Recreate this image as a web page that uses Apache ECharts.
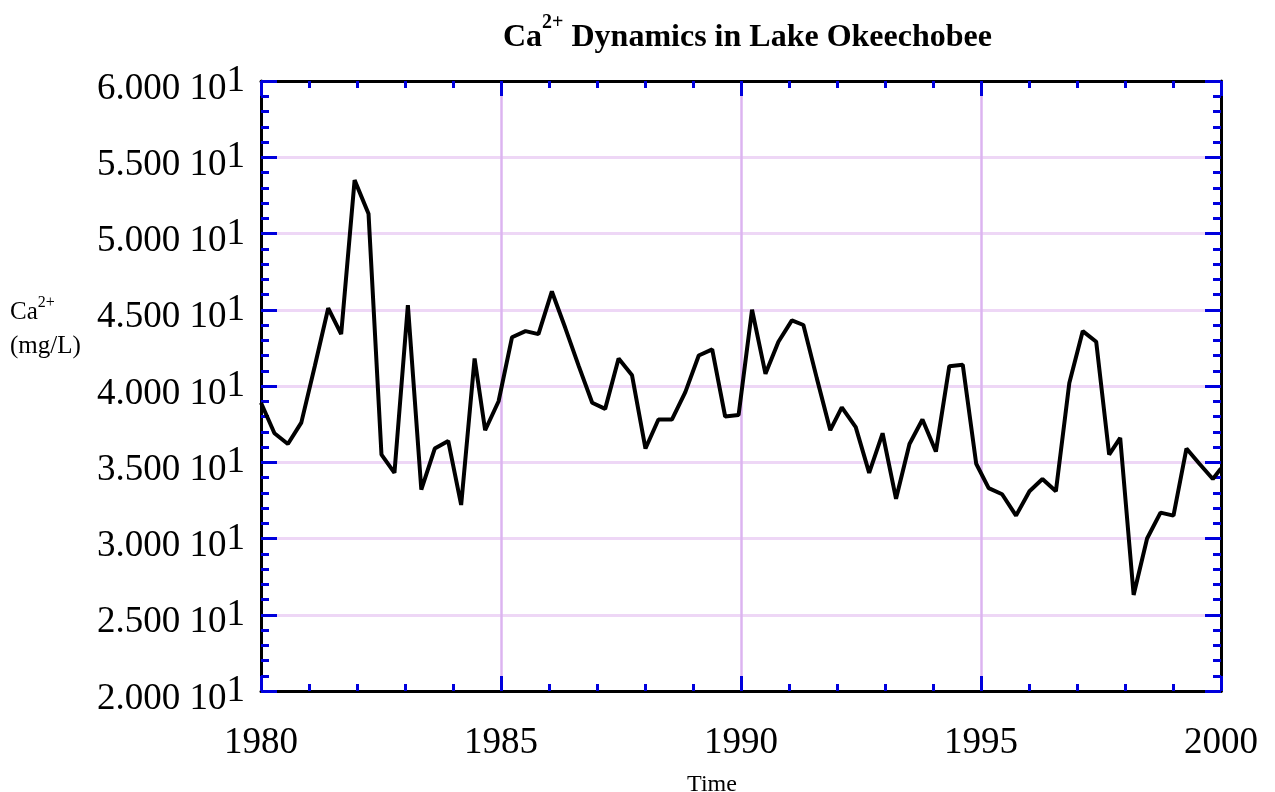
<!DOCTYPE html>
<html>
<head>
<meta charset="utf-8">
<script src="https://cdn.jsdelivr.net/npm/echarts@6/dist/echarts.min.js"></script>
<style>
  html, body { margin: 0; padding: 0; background: #fff; }
  #chart { width: 1275px; height: 792px; }
</style>
</head>
<body>
<div id="chart"></div>
<script>
// sample times (decimal years)
var years = [
  1980.00, 1980.28, 1980.56, 1980.84, 1981.12, 1981.40, 1981.67, 1981.95, 1982.24, 1982.51,
  1982.78, 1983.06, 1983.34, 1983.62, 1983.90, 1984.17, 1984.45, 1984.67, 1984.95, 1985.23,
  1985.51, 1985.78, 1986.06, 1986.34, 1986.62, 1986.90, 1987.17, 1987.45, 1987.73, 1988.01,
  1988.28, 1988.56, 1988.84, 1989.12, 1989.40, 1989.67, 1989.95, 1990.23, 1990.51, 1990.78,
  1991.06, 1991.30, 1991.58, 1991.86, 1992.10, 1992.39, 1992.67, 1992.95, 1993.23, 1993.51,
  1993.78, 1994.06, 1994.34, 1994.62, 1994.90, 1995.16, 1995.44, 1995.73, 1996.01, 1996.28,
  1996.56, 1996.84, 1997.12, 1997.40, 1997.67, 1997.90, 1998.18, 1998.46, 1998.74, 1999.01,
  1999.28, 1999.55, 1999.83, 2000.00
];
// Ca2+ concentration, mg/L
var calcium = [
  38.9, 36.9, 36.2, 37.6, 41.3, 45.1, 43.4, 53.5, 51.3, 35.5,
  34.3, 45.3, 33.2, 35.9, 36.4, 32.2, 41.8, 37.1, 39.0, 43.2,
  43.6, 43.4, 46.2, 43.8, 41.3, 38.9, 38.5, 41.8, 40.7, 35.9,
  37.8, 37.8, 39.6, 42.0, 42.4, 38.0, 38.1, 45.0, 40.8, 42.9,
  44.3, 44.0, 40.5, 37.1, 38.6, 37.3, 34.3, 36.9, 32.6, 36.2,
  37.8, 35.7, 41.3, 41.4, 34.9, 33.3, 32.9, 31.5, 33.1, 33.9,
  33.1, 40.2, 43.6, 42.9, 35.5, 36.6, 26.3, 30.0, 31.7, 31.5,
  35.9, 34.9, 33.9, 34.6
];
var yearTicks = [1980, 1985, 1990, 1995, 2000];

var serif = "'Liberation Serif', 'Times New Roman', serif";
var tickBlue = "#0000dd";

var points = [];
for (var i = 0; i < years.length; i++) {
  points.push([years[i], calcium[i]]);
}

var myChart = echarts.init(document.getElementById("chart"), null, { renderer: "canvas" });

var xBase = {
  type: "value",
  min: yearTicks[0],
  max: yearTicks[yearTicks.length - 1],
  interval: 5,
  axisLine: { show: true, onZero: false, lineStyle: { color: "#000", width: 3 } },
  axisTick: { show: true, inside: true, length: 15, lineStyle: { color: tickBlue, width: 3 } },
  minorTick: { show: true, splitNumber: 5, length: 7, lineStyle: { color: tickBlue, width: 3 } }
};
var yBase = {
  type: "value",
  min: 20,
  max: 60,
  interval: 5,
  axisLine: { show: true, onZero: false, lineStyle: { color: "#000", width: 3 } },
  axisTick: { show: true, inside: true, length: 16, lineStyle: { color: tickBlue, width: 3 } },
  minorTick: { show: true, splitNumber: 5, length: 8, lineStyle: { color: tickBlue, width: 3 } }
};

let option = {
  backgroundColor: "#fff",
  animation: false,
  title: [
    {
      text: "{b|Ca}{sup|2+}{b| Dynamics in Lake Okeechobee}",
      left: 498,
      top: 8,
      textStyle: {
        rich: {
          b: { fontFamily: serif, fontSize: 32, fontWeight: "bold", color: "#000", lineHeight: 50 },
          sup: { fontFamily: serif, fontSize: 20, fontWeight: "bold", color: "#000", lineHeight: 20, verticalAlign: "top" }
        }
      }
    },
    {
      text: "{n|Ca}{s|2+}\n{n|(mg/L)}",
      left: 5,
      top: 290,
      textStyle: {
        fontWeight: "normal",
        rich: {
          n: { fontFamily: serif, fontSize: 25, fontWeight: "normal", color: "#000", lineHeight: 34 },
          s: { fontFamily: serif, fontSize: 16, fontWeight: "normal", color: "#000", lineHeight: 12, verticalAlign: "top" }
        }
      }
    }
  ],
  grid: { left: 261, right: 54, top: 81, bottom: 101, containLabel: false, outerBoundsMode: "none" },
  xAxis: [
    Object.assign({}, xBase, {
      position: "bottom",
      name: "Time",
      nameLocation: "middle",
      nameGap: 82,
      nameTextStyle: { fontFamily: serif, fontSize: 24, color: "#000", padding: [0, 58, 0, 0] },
      axisLabel: {
        fontFamily: serif, fontSize: 37, color: "#000", margin: 34,
        formatter: function (v) { return String(v); }
      },
      splitLine: { show: true, lineStyle: { color: "#dcb4f0", width: 2.5 } }
    }),
    Object.assign({}, xBase, {
      position: "top",
      axisLabel: { show: false },
      splitLine: { show: false }
    })
  ],
  yAxis: [
    Object.assign({}, yBase, {
      position: "left",
      axisLabel: {
        margin: 16,
        padding: [16, 0, 0, 0],
        formatter: function (v) {
          return "{n|" + (v / 10).toFixed(3) + " 10}{e|1}";
        },
        rich: {
          n: { fontFamily: serif, fontSize: 37, color: "#000", lineHeight: 52 },
          e: { fontFamily: serif, fontSize: 37, color: "#000", lineHeight: 37, verticalAlign: "top" }
        }
      },
      splitLine: { show: true, lineStyle: { color: "#eed7f6", width: 3 } }
    }),
    Object.assign({}, yBase, {
      position: "right",
      axisLabel: { show: false },
      splitLine: { show: false }
    })
  ],
  series: [
    {
      name: "Ca2+",
      type: "line",
      xAxisIndex: 0,
      yAxisIndex: 0,
      symbol: "none",
      smooth: false,
      lineStyle: { color: "#000", width: 4 },
      data: points,
      z: 3
    }
  ]
};
myChart.setOption(option);
</script>
</body>
</html>
